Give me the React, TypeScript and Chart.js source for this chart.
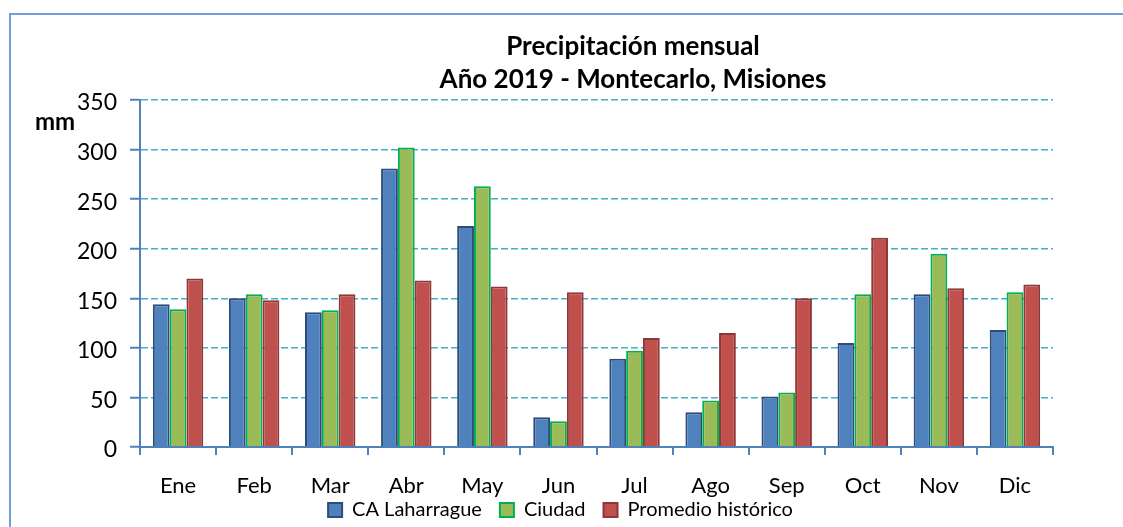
import React, { useEffect, useRef } from "react";
import { Chart, registerables } from "chart.js";

Chart.register(...registerables);

const months = ["Ene", "Feb", "Mar", "Abr", "May", "Jun", "Jul", "Ago", "Sep", "Oct", "Nov", "Dic"];
const caLaharrague = [144, 150, 136, 281, 223, 30, 89, 35, 51, 105, 154, 118];
const ciudad = [139, 154, 138, 302, 263, 26, 97, 47, 55, 154, 195, 156];
const promedioHistorico = [170, 148, 154, 168, 162, 156, 110, 115, 150, 211, 160, 164];
const titleLines = ["Precipitación mensual", "Año 2019 - Montecarlo, Misiones"];
const yUnit = "mm";
const yMax = 350;
const yStep = 50;

const FONT = "Lato, 'Noto Sans', sans-serif";

const decorPlugin = {
  id: "decor",
  afterLayout(chart: any) {
    // let the month labels overflow into the legend strip, and centre the legend on the page
    if (chart.scales.x) chart.scales.x.bottom = chart.height;
    if (chart.legend) {
      chart.legend.left += 34;
      chart.legend.right += 34;
    }
  },
  beforeDraw(chart: any) {
    const ctx = chart.ctx;
    ctx.save();
    ctx.fillStyle = "#ffffff";
    ctx.fillRect(0, 0, chart.width, chart.height);
    ctx.strokeStyle = "#6f9fd8";
    ctx.lineWidth = 2;
    ctx.strokeRect(10, 14, chart.width + 50, chart.height + 50);
    ctx.restore();
  },
  afterDraw(chart: any) {
    const ctx = chart.ctx;
    ctx.save();
    ctx.fillStyle = "#000000";
    ctx.textAlign = "center";
    ctx.textBaseline = "alphabetic";
    ctx.font = `bold 26px ${FONT}`;
    ctx.fillText(titleLines[0], 633, 55);
    ctx.fillText(titleLines[1], 633, 88);
    ctx.font = `bold 24px ${FONT}`;
    ctx.textAlign = "left";
    ctx.fillText(yUnit, 35, 130);
    ctx.restore();
  },
};

export default function App() {
  const ref = useRef<HTMLCanvasElement>(null);
  useEffect(() => {
    if (!ref.current) return;
    const axisBlue = "#4f81bd";
    const chart = new Chart(ref.current, {
      type: "bar",
      data: {
        labels: months,
        datasets: [
          {
            label: "CA Laharrague",
            data: caLaharrague,
            backgroundColor: "#4f81bd",
            borderColor: "#2c4d7a",
            borderWidth: 2,
          },
          {
            label: "Ciudad",
            data: ciudad,
            backgroundColor: "#9bbb59",
            borderColor: "#00b050",
            borderWidth: 2,
          },
          {
            label: "Promedio histórico",
            data: promedioHistorico,
            backgroundColor: "#c0504d",
            borderColor: "#8c3836",
            borderWidth: 2,
          },
        ],
      },
      options: {
        responsive: false,
        animation: false,
        devicePixelRatio: 1,
        layout: { padding: { left: 0, right: 70, top: 100, bottom: -3 } },
        datasets: { bar: { categoryPercentage: 0.663, barPercentage: 1 } },
        plugins: {
          title: { display: false },
          tooltip: { enabled: false },
          legend: {
            position: "bottom",
            labels: {
              font: { family: FONT, size: 20 },
              color: "#000000",
              boxWidth: 14,
              boxHeight: 14,
              padding: 18,
            },
          },
        },
        scales: {
          x: {
            afterFit(scale: any) {
              scale.height = 35;
            },
            grid: {
              display: true,
              drawOnChartArea: false,
              drawTicks: true,
              tickLength: 8,
              color: axisBlue,
              tickColor: axisBlue,
              lineWidth: 2,
              offset: true,
            },
            border: { display: true, color: axisBlue, width: 2 },
            ticks: {
              font: { family: FONT, size: 22 },
              color: "#000000",
              padding: 18,
              maxRotation: 0,
            },
          },
          y: {
            min: 0,
            max: yMax,
            afterFit(scale: any) {
              scale.width = 140;
            },
            grid: {
              color: "#4bacc6",
              lineWidth: 1.5,
              drawTicks: true,
              tickLength: 10,
              tickColor: axisBlue,
              tickWidth: 2,
              tickBorderDash: [],
            },
            border: { display: true, color: axisBlue, width: 2, dash: [7, 3] },
            ticks: {
              stepSize: yStep,
              font: { family: FONT, size: 23 },
              color: "#000000",
              padding: 13,
              labelOffset: 3,
            },
          },
        },
      },
      plugins: [decorPlugin],
    });
    return () => chart.destroy();
  }, []);
  return (
    <div style={{ position: "absolute", left: 0, top: 0, width: 1123, height: 527 }}>
      <canvas ref={ref} width={1123} height={527} style={{ display: "block" }} />
    </div>
  );
}
